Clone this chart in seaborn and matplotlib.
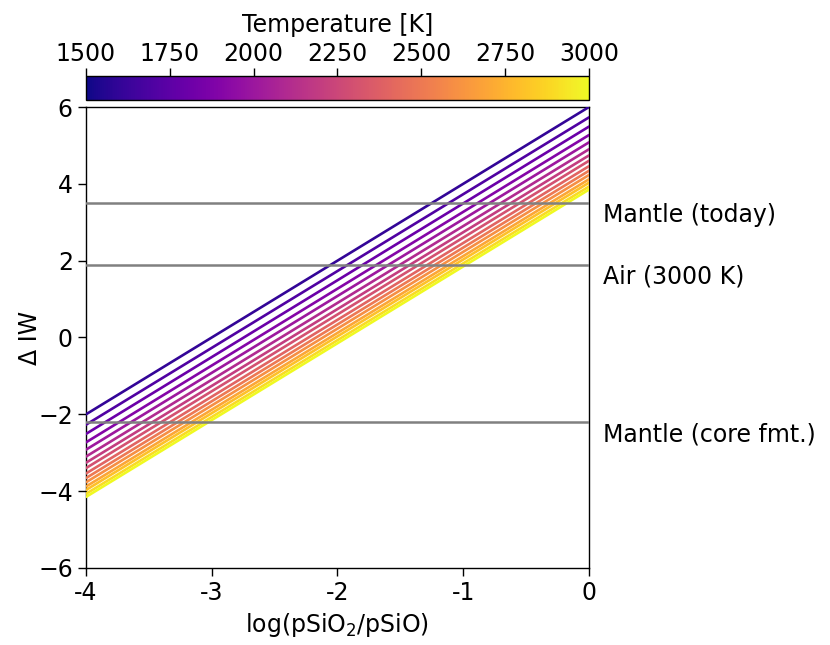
import numpy as np
import pandas as pd
import seaborn as sns
import matplotlib
matplotlib.use("Agg")
import matplotlib.pyplot as plt

# Temperatures of the curves and their Delta IW at log(pSiO2/pSiO) = 0
temperatures = [1600, 1700, 1800, 1900, 2000, 2100, 2200, 2300,
                2400, 2500, 2600, 2700, 2800, 2900, 3000]
diw_at_zero = [6.00, 5.73, 5.49, 5.27, 5.08, 4.90, 4.74, 4.60,
               4.46, 4.34, 4.23, 4.12, 4.03, 3.93, 3.85]
slope = 2.0
x_ends = [-4.0, 0.0]

# Reference levels
ref_names = ["Mantle (today)", "Air (3000 K)", "Mantle (core fmt.)"]
ref_values = [3.5, 1.9, -2.2]

xticks = [-4, -3, -2, -1, 0]
xtick_labels = ["-4", "-3", "-2", "-1", "0"]
yticks = [-6, -4, -2, 0, 2, 4, 6]
cbar_ticks = [1500, 1750, 2000, 2250, 2500, 2750, 3000]

# Build long table
rows = []
for T, b in zip(temperatures, diw_at_zero):
    for x in x_ends:
        rows.append({"T": T, "x": x, "diw": b + slope * x})
df = pd.DataFrame(rows)

sns.set_style("ticks", {"text.color": "black", "axes.labelcolor": "black",
                        "xtick.color": "black", "ytick.color": "black",
                        "axes.edgecolor": "black"})
plt.rcParams["font.family"] = ["DejaVu Sans"]
plt.rcParams["font.size"] = 17

fig = plt.figure(figsize=(8.3, 6.45), dpi=100)
ax = fig.add_axes([0.1036, 0.1194, 0.606, 0.7147])
cax = fig.add_axes([0.1036, 0.845, 0.606, 0.037])

norm = plt.Normalize(1500, 3000)
sns.lineplot(data=df, x="x", y="diw", hue="T", palette="plasma", hue_norm=norm,
             linewidth=1.9, legend=False, ax=ax, zorder=3)

for name, v in zip(ref_names, ref_values):
    ax.axhline(v, color="grey", linewidth=1.8, zorder=4)
    ax.text(0.11, v - 0.32, name, ha="left", va="center", fontsize=17,
            color="black", clip_on=False)

ax.set_xlim(-4, 0)
ax.set_ylim(-6, 6)
ax.set_xticks(xticks)
ax.set_xticklabels(xtick_labels)
ax.set_yticks(yticks)
ax.set_xlabel("log(pSiO$_2$/pSiO)", fontsize=17)
ax.set_ylabel("Δ IW", fontsize=17, labelpad=-3)
ax.tick_params(labelsize=17, length=6, width=1)
for s in ax.spines.values():
    s.set_visible(True)
    s.set_linewidth(1)

sm = plt.cm.ScalarMappable(cmap="plasma", norm=norm)
cb = fig.colorbar(sm, cax=cax, orientation="horizontal")
cb.set_ticks(cbar_ticks)
cax.xaxis.set_ticks_position("top")
cax.xaxis.set_label_position("top")
cb.set_label("Temperature [K]", fontsize=17, labelpad=7)
cax.tick_params(labelsize=17, length=6, width=1, pad=1.5)
cb.outline.set_linewidth(1)

fig.savefig("out.png", dpi=100)
